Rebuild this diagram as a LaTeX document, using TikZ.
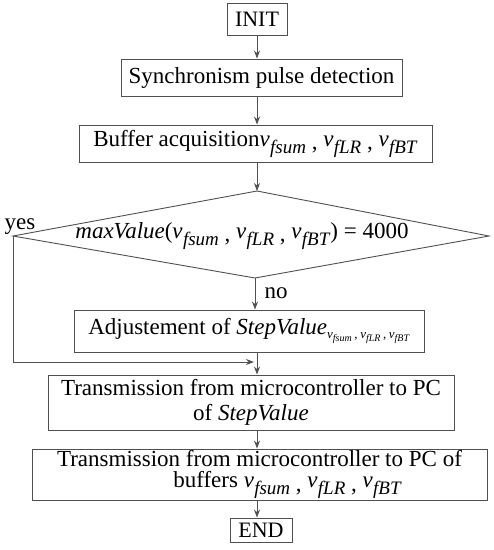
\documentclass[tikz,border=0pt]{standalone}
\usepackage{fontspec}
\setmainfont{Liberation Serif}
\usetikzlibrary{arrows.meta}
\newcommand\vsub[1]{\textit{v}\kern0.3pt\raisebox{-0.3em}{\fontsize{19}{19}\selectfont\textit{#1}}}
\newcommand\vsmall[1]{\textit{v}\raisebox{-0.25em}{\fontsize{10}{10}\selectfont\textit{#1}}}
\newcommand\sep{\hspace{0.25em}\raisebox{-0.15em}{,}\hspace{0.25em}}
\definecolor{linec}{HTML}{505050}
\begin{document}
\begin{tikzpicture}[x=1pt,y=-1pt,
  box/.style={draw=linec,line width=0.9pt,inner sep=0pt,font=\fontsize{23}{27}\selectfont},
  lbl/.style={inner sep=0pt,font=\fontsize{23}{27}\selectfont},
  arr/.style={draw=linec,line width=0.9pt,-{Stealth[length=8pt,width=6pt]}}]
\useasboundingbox (0,0) rectangle (494,550);
\node[box,minimum width=60pt,minimum height=32pt,font=\fontsize{22}{26}\selectfont] (init) at (257,19) {INIT};
\node[box,minimum width=281pt,minimum height=37pt] (sync) at (261.5,77.5) {Synchronism pulse detection};
\node[box,minimum width=353pt,minimum height=37pt] (buf) at (255.5,143.5) {Buffer acquisition\vsub{fsum}\sep\vsub{fLR}\sep\vsub{fBT}};
\coordinate (dT) at (257,191);
\coordinate (dR) at (489,236);
\coordinate (dB) at (255,278);
\coordinate (dL) at (13,236);
\draw[linec,line width=0.9pt] (dT) -- (dR) -- (dB) -- (dL) -- cycle;
\node[lbl] (dtext) at (242,236) {\textit{maxValue}(\vsub{fsum}\sep\vsub{fLR}\sep\vsub{fBT}) = 4000};
\node[lbl] (yes) at (20,227) {yes};
\node[lbl] (no) at (276,293) {no};
\node[box,minimum width=350pt,minimum height=42pt] (adj) at (249,331) {Adjustement of \textit{StepValue}\raisebox{-0.2em}{\fontsize{13}{13}\selectfont\vsmall{fsum}\hspace{0.2em},\hspace{0.2em}\vsmall{fLR}\hspace{0.2em},\hspace{0.2em}\vsmall{fBT}}};
\node[box,minimum width=406pt,minimum height=55pt,align=center] (tr1) at (251,402.5) {Transmission from microcontroller to PC\\[-2pt] of \textit{StepValue}};
\node[box,minimum width=455pt,minimum height=51pt,align=center] (tr2) at (259.5,474.5) {Transmission from microcontroller to PC of\\[-6pt] \hspace*{56pt}buffers \vsub{fsum}\sep\vsub{fLR}\sep\vsub{fBT}};
\node[box,minimum width=62pt,minimum height=24pt,font=\fontsize{22}{26}\selectfont] (end) at (261,530) {END};
\coordinate (mx) at (257,362);
\draw[arr] (init.south) -- (init.south |- sync.north);
\draw[arr] (init.south |- sync.south) -- (init.south |- buf.north);
\draw[arr] (init.south |- buf.south) -- (dT);
\draw[arr] (dB) -- (dB |- adj.north);
\draw[arr] (init.south |- adj.south) -- (init.south |- tr1.north);
\draw[arr] (dL) -- (dL |- mx) -- ([xshift=-3pt]mx);
\draw[arr] (init.south |- tr1.south) -- (init.south |- tr2.north);
\draw[arr] (init.south |- tr2.south) -- (init.south |- end.north);
\end{tikzpicture}
\end{document}
